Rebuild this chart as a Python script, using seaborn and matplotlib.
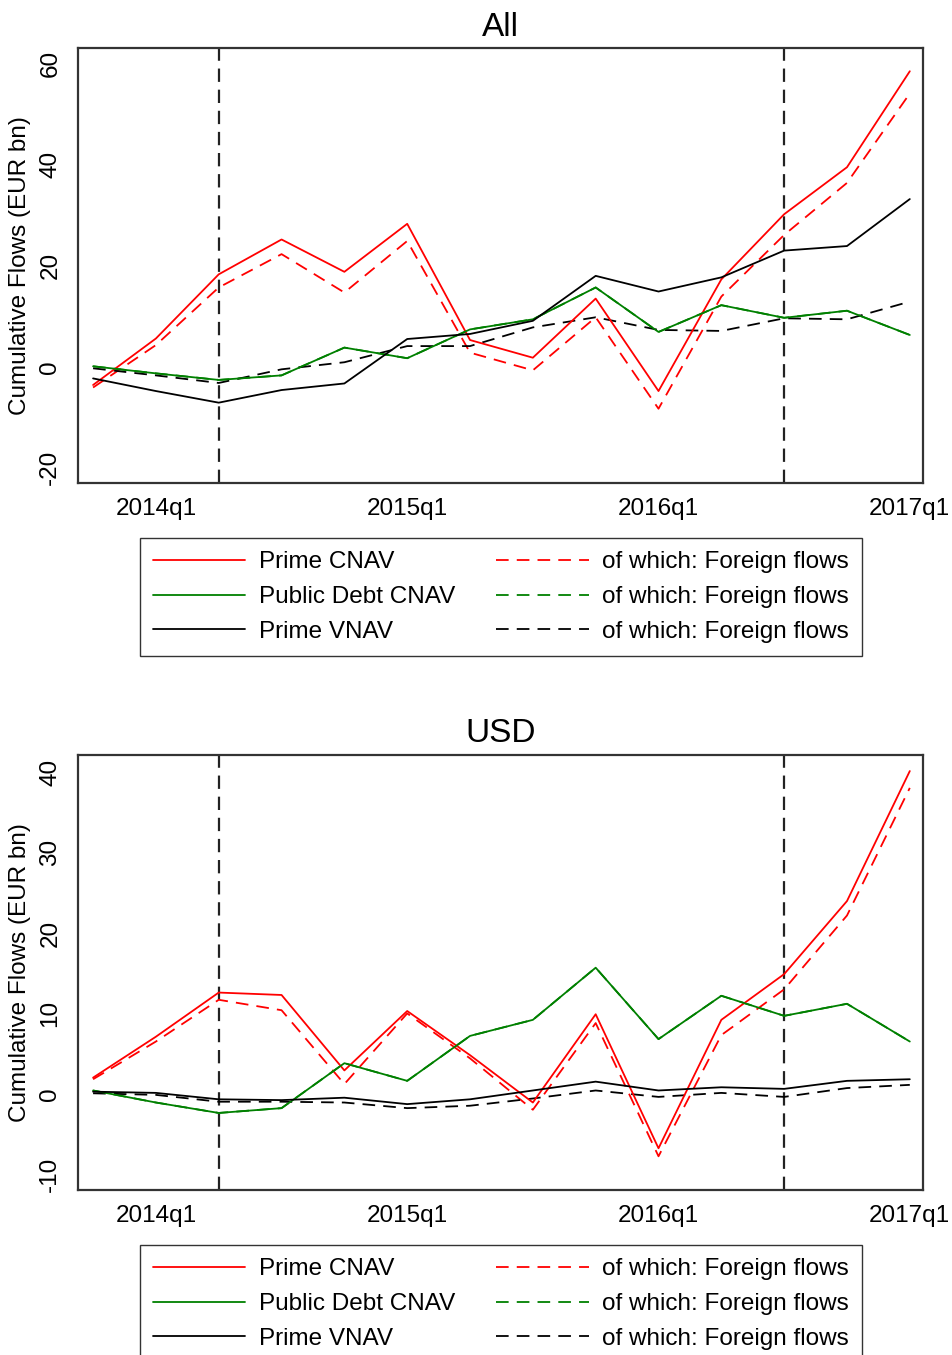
import matplotlib
matplotlib.use("Agg")
import matplotlib.pyplot as plt
import seaborn as sns
import pandas as pd

quarters = ["2013q4", "2014q1", "2014q2", "2014q3", "2014q4", "2015q1", "2015q2",
            "2015q3", "2015q4", "2016q1", "2016q2", "2016q3", "2016q4", "2017q1"]
tick_labels = ["2014q1", "2015q1", "2016q1", "2017q1"]
event_quarters = ["2014q2", "2016q3"]

# ---- All currencies ----
all_prime_cnav = [-3.6, 5.6, 18.3, 25.2, 18.8, 28.3, 5.3, 1.8, 13.5, -4.8, 17.3, 30.2, 39.5, 58.5]
all_prime_cnav_for = [-4.1, 4.3, 15.7, 22.3, 14.7, 24.9, 2.8, -0.7, 9.8, -8.3, 13.9, 26.1, 36.4, 54.1]
all_public_cnav = [0.1, -1.3, -2.6, -1.7, 3.8, 1.7, 7.4, 9.4, 15.7, 6.9, 12.2, 9.7, 11.1, 6.3]
all_public_cnav_for = [0.1, -1.3, -2.6, -1.7, 3.8, 1.7, 7.4, 9.4, 15.7, 6.9, 12.2, 9.7, 11.1, 6.3]
all_prime_vnav = [-2.3, -4.8, -7.1, -4.6, -3.3, 5.5, 6.5, 9.1, 18.0, 14.9, 17.7, 23.0, 23.9, 33.2]
all_prime_vnav_for = [-0.3, -1.7, -3.2, -0.5, 0.9, 4.1, 4.1, 7.8, 9.8, 7.3, 7.1, 9.6, 9.4, 12.9]

# ---- USD ----
usd_prime_cnav = [2.0, 7.1, 12.6, 12.3, 2.9, 10.3, 4.8, -1.1, 9.9, -6.8, 9.2, 14.9, 24.0, 40.2]
usd_prime_cnav_for = [1.8, 6.5, 11.7, 10.4, 1.2, 10.0, 4.4, -2.0, 8.8, -7.8, 7.3, 13.0, 22.2, 38.1]
usd_public_cnav = [0.4, -1.1, -2.4, -1.8, 3.8, 1.6, 7.2, 9.2, 15.7, 6.8, 12.2, 9.7, 11.2, 6.5]
usd_public_cnav_for = [0.4, -1.1, -2.4, -1.8, 3.8, 1.6, 7.2, 9.2, 15.7, 6.8, 12.2, 9.7, 11.2, 6.5]
usd_prime_vnav = [0.25, 0.1, -0.7, -0.8, -0.5, -1.3, -0.7, 0.4, 1.5, 0.4, 0.8, 0.6, 1.6, 1.8]
usd_prime_vnav_for = [0.05, -0.15, -1.0, -1.0, -1.1, -1.8, -1.5, -0.6, 0.4, -0.4, 0.1, -0.4, 0.7, 1.1]

sns.set_style("white")
plt.rcParams["font.family"] = ["Liberation Sans", "DejaVu Sans"]
plt.rcParams["text.color"] = "black"
plt.rcParams["axes.labelcolor"] = "black"
plt.rcParams["xtick.color"] = "black"
plt.rcParams["ytick.color"] = "black"

FS = 17.5
RED, GREEN, BLACK = "#ff0000", "#008000", "#000000"
DASH = (0, (7, 4.5))

fig = plt.figure(figsize=(9.52, 13.55), dpi=100)
ax_all = fig.add_axes([78 / 952, 1 - 483 / 1355, 845 / 952, 435 / 1355])
ax_usd = fig.add_axes([78 / 952, 1 - 1190 / 1355, 845 / 952, 435 / 1355])

xi = list(range(len(quarters)))


def panel(ax, title, series, ylim, yticks, legend_top):
    # series: (values, colour, style, label, zorder)
    handles = []
    for vals, col, ls, lab, z in series:
        df = pd.DataFrame({"q": xi, "v": vals})
        sns.lineplot(data=df, x="q", y="v", ax=ax, color=col, linewidth=1.3,
                     linestyle=ls, label=lab, zorder=z, legend=False)
        handles.append(ax.lines[-1])
    for q in event_quarters:
        ax.axvline(quarters.index(q), color="#222222", linewidth=1.6,
                   linestyle=(0, (6, 3.5)), zorder=1)
    ax.set_xlim(-0.24, 13.21)
    ax.set_ylim(*ylim)
    ax.set_xticks([quarters.index(t) for t in tick_labels])
    ax.set_xticklabels(tick_labels, fontsize=FS)
    ax.set_yticks(yticks)
    ax.set_yticklabels([str(t) for t in yticks], fontsize=FS, rotation=90, va="center")
    ax.tick_params(axis="x", length=7, width=1, color="#444444", labelcolor="black", pad=4)
    ax.tick_params(axis="y", length=8, width=1, color="#444444", labelcolor="black", pad=4)
    ax.set_xlabel("")
    ax.set_ylabel("Cumulative Flows (EUR bn)", fontsize=FS, labelpad=6, color="black")
    ax.set_title(title, fontsize=24, pad=9, color="black")
    for s in ax.spines.values():
        s.set_color("#333333")
        s.set_linewidth(1.6)
    order = [0, 2, 4, 1, 3, 5]
    leg = ax.legend([handles[i] for i in order],
                    [series[i][3] for i in order],
                    ncol=2, loc="upper center", bbox_to_anchor=(501 / 952, legend_top),
                    bbox_transform=fig.transFigure, fontsize=FS, frameon=True,
                    fancybox=False, edgecolor="#000000", handlelength=3.8,
                    handletextpad=0.55, columnspacing=1.7, labelspacing=0.52,
                    borderpad=0.55, borderaxespad=0)
    leg.get_frame().set_linewidth(1.0)
    for t in leg.get_texts():
        t.set_color("black")


panel(ax_all, "All", [
    (all_prime_cnav, RED, "-", "Prime CNAV", 5),
    (all_prime_cnav_for, RED, DASH, "of which: Foreign flows", 4),
    (all_public_cnav, GREEN, "-", "Public Debt CNAV", 5),
    (all_public_cnav_for, GREEN, DASH, "of which: Foreign flows", 4),
    (all_prime_vnav, BLACK, "-", "Prime VNAV", 5),
    (all_prime_vnav_for, BLACK, DASH, "of which: Foreign flows", 4),
], (-23.0, 63.1), [-20, 0, 20, 40, 60], 1 - 538 / 1355)

panel(ax_usd, "USD", [
    (usd_prime_cnav, RED, "-", "Prime CNAV", 5),
    (usd_prime_cnav_for, RED, DASH, "of which: Foreign flows", 4),
    (usd_public_cnav, GREEN, "-", "Public Debt CNAV", 5),
    (usd_public_cnav_for, GREEN, DASH, "of which: Foreign flows", 4),
    (usd_prime_vnav, BLACK, "-", "Prime VNAV", 5),
    (usd_prime_vnav_for, BLACK, DASH, "of which: Foreign flows", 4),
], (-12.0, 42.2), [-10, 0, 10, 20, 30, 40], 1 - 1245 / 1355)

plt.savefig("out.png", dpi=100)
